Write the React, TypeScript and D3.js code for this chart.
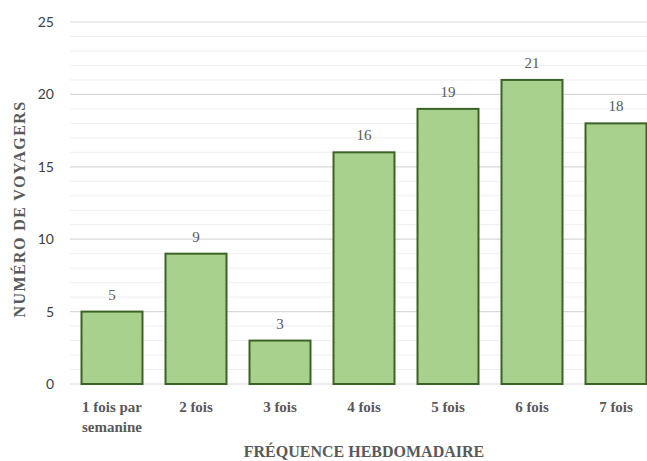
import React, { useEffect, useRef } from 'react';
import * as d3 from 'd3';

const categories = ['1 fois par|semanine', '2 fois', '3 fois', '4 fois', '5 fois', '6 fois', '7 fois'];
const voyagers = [5, 9, 3, 16, 19, 21, 18];
const majorTicks = [0, 5, 10, 15, 20, 25];

const W = 647;
const H = 461;
const SERIF = 'Liberation Serif';

const App: React.FC = () => {
  const svgRef = useRef<SVGSVGElement>(null);

  useEffect(() => {
    if (!svgRef.current) return;
    const svg = d3.select(svgRef.current);
    svg.selectAll('*').remove();

    const x = d3.scaleBand<string>()
      .domain(categories)
      .range([70, 658])
      .paddingInner(0.274)
      .paddingOuter(0.137);

    const y = d3.scaleLinear().domain([0, 25]).range([384, 22]);

    // minor gridlines
    svg.append('g')
      .selectAll('line')
      .data(d3.range(0, 26).filter(v => v % 5 !== 0))
      .enter()
      .append('line')
      .attr('x1', 70)
      .attr('x2', W)
      .attr('y1', d => y(d))
      .attr('y2', d => y(d))
      .attr('stroke', '#eeeeee')
      .attr('stroke-width', 1);

    // major gridlines
    svg.append('g')
      .selectAll('line')
      .data(majorTicks)
      .enter()
      .append('line')
      .attr('x1', 70)
      .attr('x2', W)
      .attr('y1', d => y(d))
      .attr('y2', d => y(d))
      .attr('stroke', '#d9d9d9')
      .attr('stroke-width', 1.2);

    // y tick labels
    svg.append('g')
      .selectAll('text')
      .data(majorTicks)
      .enter()
      .append('text')
      .attr('x', 54)
      .attr('y', d => y(d))
      .attr('dy', '0.35em')
      .attr('text-anchor', 'end')
      .attr('font-family', 'Lato')
      .attr('font-size', 14)
      .attr('fill', '#404040')
      .text(d => d.toString());

    // bars
    svg.append('g')
      .selectAll('rect')
      .data(voyagers)
      .enter()
      .append('rect')
      .attr('x', (d, i) => x(categories[i]) || 0)
      .attr('y', d => y(d))
      .attr('width', x.bandwidth())
      .attr('height', d => y(0) - y(d))
      .attr('fill', '#a9d18e')
      .attr('stroke', '#3b6326')
      .attr('stroke-width', 2);

    // values
    svg.append('g')
      .selectAll('text')
      .data(voyagers)
      .enter()
      .append('text')
      .attr('x', (d, i) => (x(categories[i]) || 0) + x.bandwidth() / 2)
      .attr('y', d => y(d) - 12)
      .attr('text-anchor', 'middle')
      .attr('font-family', SERIF)
      .attr('font-size', 15)
      .attr('fill', '#595959')
      .text(d => d.toString());

    // category labels
    const cat = svg.append('g')
      .selectAll('text')
      .data(categories)
      .enter()
      .append('text')
      .attr('x', d => (x(d) || 0) + x.bandwidth() / 2)
      .attr('y', 412)
      .attr('text-anchor', 'middle')
      .attr('font-family', SERIF)
      .attr('font-weight', 'bold')
      .attr('font-size', 15)
      .attr('fill', '#595959');

    cat.each(function (d) {
      const t = d3.select(this);
      d.split('|').forEach((part, i) => {
        t.append('tspan')
          .attr('x', (x(d) || 0) + x.bandwidth() / 2)
          .attr('dy', i === 0 ? 0 : 20)
          .text(part);
      });
    });

    // axis titles
    svg.append('text')
      .attr('x', 364)
      .attr('y', 457)
      .attr('text-anchor', 'middle')
      .attr('font-family', SERIF)
      .attr('font-weight', 'bold')
      .attr('font-size', 16)
      .attr('fill', '#595959')
      .text('FRÉQUENCE HEBDOMADAIRE');

    svg.append('text')
      .attr('transform', 'translate(25,209) rotate(-90)')
      .attr('text-anchor', 'middle')
      .attr('font-family', SERIF)
      .attr('font-weight', 'bold')
      .attr('font-size', 16)
      .attr('letter-spacing', 1.4)
      .attr('fill', '#595959')
      .text('NUMÉRO DE VOYAGERS');
  }, []);

  return (
    <svg
      ref={svgRef}
      width={W}
      height={H}
      style={{ position: 'absolute', left: 0, top: 0, background: '#fff' }}
      role="img"
      aria-label="Fréquence hebdomadaire"
    />
  );
};

export default App;
